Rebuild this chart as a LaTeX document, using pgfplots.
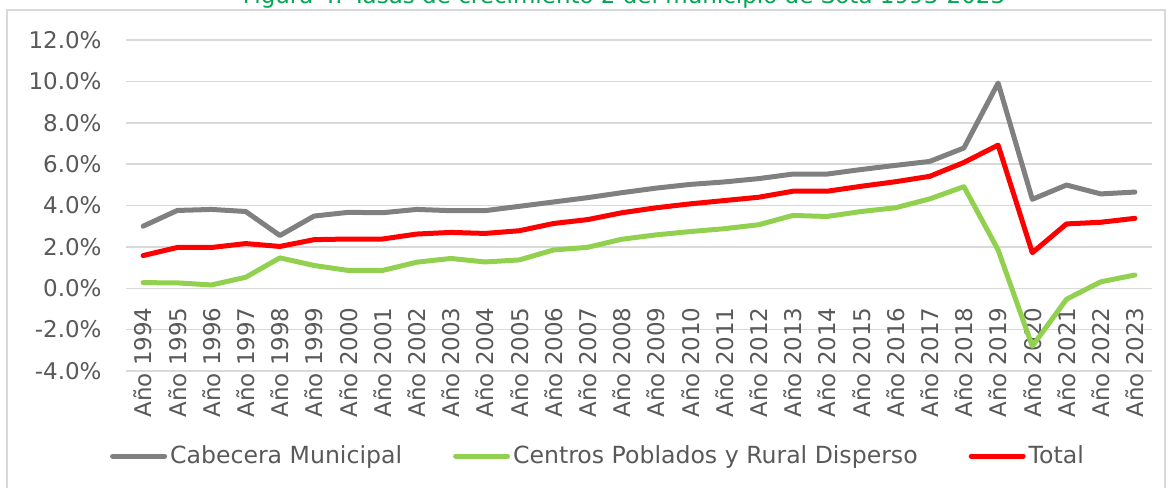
\documentclass[border=0pt]{standalone}
\usepackage{fontspec}
\setmainfont{DejaVu Sans}
\usepackage{pgfplots}
\pgfplotsset{compat=1.18}
\definecolor{cgray}{HTML}{808080}
\definecolor{cgreen}{HTML}{92D050}
\definecolor{cred}{HTML}{FF0000}
\definecolor{gridc}{HTML}{D9D9D9}
\definecolor{txt}{HTML}{595959}
\definecolor{ttl}{HTML}{00A651}
\begin{document}
\begin{tikzpicture}
\useasboundingbox (0,0) rectangle (585pt,243.5pt);
\clip (0,0) rectangle (585pt,243.5pt);
\draw[gridc, line width=0.75pt] (3.5pt,-5pt) rectangle (582.5pt,238.5pt);
\node[anchor=base, text=ttl, font=\fontsize{11.5}{13}\selectfont, inner sep=0pt] at (312pt,241.5pt) {Figura 4. Tasas de crecimiento 2 del municipio de Sota 1993-2023};
\begin{axis}[
  at={(63pt,58pt)}, anchor=south west,
  scale only axis, width=513pt, height=165.5pt,
  xmin=-0.5, xmax=29.5, ymin=-4, ymax=12,
  axis line style={draw=none},
  tick style={draw=none},
  ymajorgrids, grid style={gridc, line width=0.75pt},
  ytick={-4,-2,0,2,4,6,8,10,12},
  yticklabels={-4.0\%,-2.0\%,0.0\%,2.0\%,4.0\%,6.0\%,8.0\%,10.0\%,12.0\%},
  xtick={0,...,29},
  xticklabels={Año 1994,Año 1995,Año 1996,Año 1997,Año 1998,Año 1999,Año 2000,Año 2001,Año 2002,Año 2003,Año 2004,Año 2005,Año 2006,Año 2007,Año 2008,Año 2009,Año 2010,Año 2011,Año 2012,Año 2013,Año 2014,Año 2015,Año 2016,Año 2017,Año 2018,Año 2019,Año 2020,Año 2021,Año 2022,Año 2023},
  ticklabel style={font=\fontsize{11.5}{13}\selectfont, text=txt, inner sep=0pt},
  x tick label style={rotate=90, anchor=east},
  xticklabel shift=-32pt,
  yticklabel shift=12pt,
  legend columns=3,
  legend style={draw=none, fill=none, at={(0.4605,-0.2568)}, anchor=center,
    font=\fontsize{11.8}{13}\selectfont, text=txt,
    nodes={inner sep=1.5pt},
    /tikz/every even column/.append style={column sep=24pt}},
  legend image code/.code={\draw[#1, line cap=round] (0pt,0pt) -- (26pt,0pt);},
  every axis plot/.append style={line width=2.5pt, line join=round, line cap=round, mark=none},
]
\addplot[cgray] coordinates {
(0,3.00) (1,3.76) (2,3.81) (3,3.71) (4,2.55) (5,3.49) (6,3.67) (7,3.65) (8,3.81) (9,3.75)
(10,3.75) (11,3.96) (12,4.17) (13,4.38) (14,4.62) (15,4.84) (16,5.02) (17,5.14) (18,5.30) (19,5.52)
(20,5.52) (21,5.74) (22,5.94) (23,6.13) (24,6.78) (25,9.92) (26,4.30) (27,4.99) (28,4.56) (29,4.65)};
\addlegendentry{Cabecera Municipal}
\addplot[cgreen] coordinates {
(0,0.27) (1,0.26) (2,0.16) (3,0.53) (4,1.47) (5,1.10) (6,0.86) (7,0.86) (8,1.26) (9,1.44)
(10,1.27) (11,1.37) (12,1.85) (13,1.98) (14,2.37) (15,2.58) (16,2.74) (17,2.88) (18,3.07) (19,3.52)
(20,3.47) (21,3.71) (22,3.89) (23,4.32) (24,4.91) (25,1.85) (26,-2.80) (27,-0.53) (28,0.31) (29,0.64)};
\addlegendentry{Centros Poblados y Rural Disperso}
\addplot[cred] coordinates {
(0,1.58) (1,1.97) (2,1.97) (3,2.16) (4,2.02) (5,2.35) (6,2.38) (7,2.38) (8,2.62) (9,2.70)
(10,2.65) (11,2.78) (12,3.13) (13,3.32) (14,3.65) (15,3.89) (16,4.08) (17,4.24) (18,4.40) (19,4.69)
(20,4.69) (21,4.93) (22,5.15) (23,5.41) (24,6.08) (25,6.92) (26,1.72) (27,3.11) (28,3.19) (29,3.38)};
\addlegendentry{Total}
\end{axis}
\end{tikzpicture}
\end{document}
